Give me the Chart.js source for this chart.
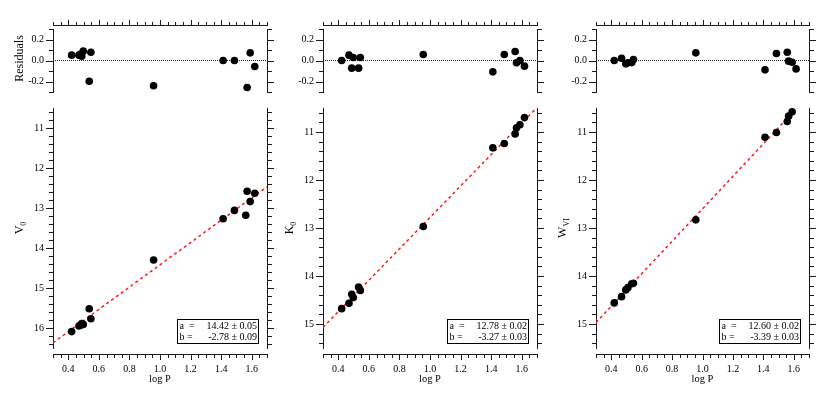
<!DOCTYPE html>
<html><head><meta charset="utf-8">
<script src="https://cdn.jsdelivr.net/npm/chart.js@4/dist/chart.umd.min.js"></script>
<style>
html,body{margin:0;padding:0;background:#fff;width:830px;height:399px;overflow:hidden;position:relative;}
canvas{position:absolute;}
</style></head><body>
<script>
// ---------- data ----------
const logP_V = [0.422, 0.470, 0.480, 0.488, 0.498, 0.537, 0.548, 0.958, 1.413, 1.487, 1.561, 1.570, 1.590, 1.620];
const V0     = [16.09, 15.95, 15.93, 15.89, 15.91, 15.52, 15.77, 14.30, 13.27, 13.06, 13.18, 12.58, 12.84, 12.63];
const resV   = [0.051, 0.051, 0.060, 0.041, 0.089, -0.197, 0.079, -0.241, 0.000, 0.000, null, -0.257, 0.073, -0.057];

const logP_K = [0.422, 0.470, 0.488, 0.498, 0.533, 0.544, 0.956, 1.411, 1.486, 1.557, 1.566, 1.588, 1.618];
const K0     = [14.68, 14.57, 14.38, 14.45, 14.23, 14.30, 12.97, 11.33, 11.24, 11.04, 10.91, 10.85, 10.70];
const resK   = [0.000, 0.051, -0.073, 0.029, -0.073, 0.029, 0.057, -0.108, 0.057, 0.086, -0.022, 0.000, -0.054];

const logP_W = [0.420, 0.468, 0.496, 0.510, 0.535, 0.546, 0.956, 1.411, 1.486, 1.557, 1.566, 1.589, 1.615];
const WVI    = [14.56, 14.43, 14.29, 14.24, 14.16, 14.15, 12.83, 11.11, 11.01, 10.78, 10.67, 10.58, null];
const resW   = [0.000, 0.022, -0.032, -0.022, -0.020, 0.010, 0.073, -0.089, 0.067, 0.079, -0.006, -0.016, -0.080];

// fitted lines (end points)
const fitLogP = [0.3, 1.7];
const fitV    = [16.37, 12.47];
const fitK    = [15.07, 10.49];
const fitW    = [14.97, 10.23];

// fit box texts
const fitA = ["14.42 \u00b1 0.05", "12.78 \u00b1 0.02", "12.60 \u00b1 0.02"];
const fitB = ["-2.78 \u00b1 0.09", "-3.27 \u00b1 0.03", "-3.39 \u00b1 0.03"];

// tick labels
const xTickValues = [0.4, 0.6, 0.8, 1.0, 1.2, 1.4, 1.6];
const xTickLabels = ["0.4", "0.6", "0.8", "1.0", "1.2", "1.4", "1.6"];
const resTickValues = [0.2, 0.0, -0.2];
const resTickLabels = ["0.2", "0.0", "-0.2"];
const vTickLabels = ["11", "12", "13", "14", "15", "16"];
const kTickLabels = ["11", "12", "13", "14", "15"];

const FONT = "'Liberation Serif', 'Times New Roman', serif";
const AX = '#1a1a1a';

// ---------- helpers ----------
function steps(from, to, step) {
  const out = [];
  const n = Math.round((to - from) / step);
  for (let i = 0; i <= n; i++) out.push(Math.round((from + i * step) * 1000) / 1000);
  return out;
}
const xMinorTicks = steps(0.3, 1.7, 0.05);
const resMinorTicks = steps(-0.3, 0.3, 0.1);

function near(a, b) { return Math.abs(a - b) < 1e-6; }
function labelFrom(values, labels) {
  return v => { const i = values.findIndex(w => near(w, v)); return i >= 0 ? labels[i] : ''; };
}
function pts(xs, ys) { return xs.map((x, i) => ({x: x, y: ys[i]})); }

function makeCanvas(left, top, w, h) {
  const c = document.createElement('canvas');
  c.width = w; c.height = h;
  c.style.left = left + 'px'; c.style.top = top + 'px';
  c.style.width = w + 'px'; c.style.height = h + 'px';
  document.body.appendChild(c);
  return c;
}

function noPad(s) { s.paddingTop = 0; s.paddingBottom = 0; s.paddingLeft = 0; s.paddingRight = 0; }

function yAxis(pos, min, max, reverse, tickVals, labelOf, showLabels, width) {
  return {
    type: 'linear', position: pos, min: min, max: max, reverse: reverse,
    afterBuildTicks: s => { s.ticks = tickVals.map(v => ({value: v})); },
    afterFit: s => { s.width = width; noPad(s); },
    grid: {drawOnChartArea: false, drawTicks: false},
    border: {display: true, color: AX, width: 1},
    ticks: {
      display: showLabels, autoSkip: false, padding: 9, color: '#000',
      font: {family: FONT, size: 10},
      callback: v => labelOf(v)
    }
  };
}

function xAxis(pos, showLabels, height, title) {
  return {
    type: 'linear', position: pos, min: 0.3, max: 1.7,
    afterBuildTicks: s => { s.ticks = xMinorTicks.map(v => ({value: v})); },
    afterFit: s => { s.height = height; noPad(s); },
    grid: {drawOnChartArea: false, drawTicks: false},
    border: {display: false},
    ticks: {
      display: showLabels, autoSkip: false, maxRotation: 0, minRotation: 0, padding: 15, color: '#000',
      font: {family: FONT, size: 10},
      callback: v => labelFrom(xTickValues, xTickLabels)(v)
    },
    title: title ? {display: true, text: title, color: '#000', font: {family: FONT, size: 10.5}, padding: {top: 0, bottom: 13}} : {display: false}
  };
}

// x axis line (offset from the plot frame) and tick marks of all four sides, placed with the scales
function axisPlugin(xSide, xMajor, yMajor) {
  return {
    id: 'axisTicks',
    afterDraw(chart) {
      const {ctx, chartArea: a} = chart;
      const L = Math.round(a.left), R = Math.round(a.right), T = Math.round(a.top), B = Math.round(a.bottom);
      const lineY = xSide === 'top' ? T - 4 : B + 6;
      ctx.save();
      ctx.strokeStyle = AX; ctx.lineWidth = 1;
      ctx.beginPath();
      ctx.moveTo(L, lineY + 0.5); ctx.lineTo(R + 1, lineY + 0.5);
      const xs = chart.scales.x;
      xs.ticks.forEach(t => {
        const px = Math.round(xs.getPixelForValue(t.value)) + 0.5;
        const len = xMajor(t.value) ? 5 : 3;
        if (xSide === 'top') { ctx.moveTo(px, lineY); ctx.lineTo(px, lineY - len); }
        else { ctx.moveTo(px, lineY + 1); ctx.lineTo(px, lineY + 1 + len); }
      });
      ['y', 'y2'].forEach(id => {
        const ys = chart.scales[id];
        ys.ticks.forEach(t => {
          const py = Math.round(ys.getPixelForValue(t.value)) + 0.5;
          const M = yMajor(t.value);
          if (id === 'y') { const len = M ? 7 : 4; ctx.moveTo(L, py); ctx.lineTo(L - len, py); }
          else { const len = M ? 6 : 4; ctx.moveTo(R + 1, py); ctx.lineTo(R + 1 + len, py); }
        });
      });
      ctx.stroke();
      ctx.restore();
    }
  };
}

function yTitlePlugin(parts, dx, dy) {
  return {
    id: 'ytitle',
    afterDraw(chart) {
      const {ctx, chartArea: a} = chart;
      const cx = a.left + dx, cy = (a.top + a.bottom) / 2 + (dy || 0);
      ctx.save();
      ctx.translate(cx, cy); ctx.rotate(-Math.PI / 2);
      let total = 0;
      parts.forEach(p => { ctx.font = p.size + 'px ' + FONT; p.w = ctx.measureText(p.text).width; total += p.w; });
      let x = -total / 2;
      ctx.fillStyle = '#000'; ctx.textAlign = 'left'; ctx.textBaseline = 'alphabetic';
      parts.forEach(p => { ctx.font = p.size + 'px ' + FONT; ctx.fillText(p.text, x, 4 + (p.dy || 0)); x += p.w; });
      ctx.restore();
    }
  };
}

function boxPlugin(aText, bText) {
  return {
    id: 'fitbox',
    afterDraw(chart) {
      const {ctx, chartArea: c} = chart;
      const w = 81, h = 24;
      const r = Math.round(c.right) - 9, b = Math.round(c.bottom) - 5;
      const l = r - w, t = b - h;
      ctx.save();
      ctx.fillStyle = '#fff'; ctx.fillRect(l, t, w, h);
      ctx.strokeStyle = '#000'; ctx.lineWidth = 1; ctx.strokeRect(l + 0.5, t + 0.5, w, h);
      ctx.font = '10px ' + FONT; ctx.fillStyle = '#000'; ctx.textBaseline = 'alphabetic';
      ctx.textAlign = 'left';
      ctx.fillText('a  =', l + 2.5, t + 10);
      ctx.fillText('b =', l + 2.5, t + 21);
      ctx.textAlign = 'right';
      ctx.fillText(aText, r - 1, t + 10);
      ctx.fillText(bText, r - 1, t + 21);
      ctx.restore();
    }
  };
}

const base = {
  responsive: false, animation: false, devicePixelRatio: 1, events: [],
  plugins: {legend: {display: false}, tooltip: {enabled: false}}
};

const isXMajor = v => xTickValues.some(w => near(w, v));
const isResMajor = v => resTickValues.some(w => near(w, v));

const panels = [
  {left: 53, right: 267, yMax: 16.5, xs: logP_V, ys: V0, res: resV, fit: fitV, labels: vTickLabels,
   title: [{text: 'V', size: 12}, {text: '0', size: 8, dy: 3}], resTitle: true, a: fitA[0], b: fitB[0]},
  {left: 323, right: 537, yMax: 15.5, xs: logP_K, ys: K0, res: resK, fit: fitK, labels: kTickLabels,
   title: [{text: 'K', size: 12}, {text: '0', size: 8, dy: 3}], resTitle: false, a: fitA[1], b: fitB[1]},
  {left: 596, right: 809, yMax: 15.5, xs: logP_W, ys: WVI, res: resW, fit: fitW, labels: kTickLabels,
   title: [{text: 'W', size: 12}, {text: 'VI', size: 8, dy: 3}], resTitle: false, a: fitA[2], b: fitB[2]}
];

panels.forEach(p => {
  const LW = 53, RW = 10;
  const cw = LW + (p.right - p.left) + RW;
  const cl = p.left - LW;

  // ----- residual panel -----
  const rc = makeCanvas(cl, 0, cw, 100);
  const resPlugins = [axisPlugin('top', isXMajor, isResMajor)];
  if (p.resTitle) resPlugins.push(yTitlePlugin([{text: 'Residuals', size: 12}], -34, -2));
  new Chart(rc, {
    type: 'scatter',
    data: {datasets: [
      {data: pts(p.xs, p.res), backgroundColor: '#000', borderColor: '#000', pointRadius: 3.8, borderWidth: 0, order: 0},
      {data: pts(fitLogP, [0, 0]), showLine: true, pointRadius: 0, borderColor: '#222', borderWidth: 1, borderDash: [1, 1], order: 1}
    ]},
    options: Object.assign({}, base, {
      layout: {autoPadding: false, padding: {top: 0, bottom: 8, left: 0, right: 0}},
      scales: {
        x: xAxis('top', false, 29, null),
        y: yAxis('left', -0.3, 0.3, false, resMinorTicks, labelFrom(resTickValues, resTickLabels), true, LW),
        y2: yAxis('right', -0.3, 0.3, false, resMinorTicks, () => '', false, RW)
      }
    }),
    plugins: resPlugins
  });

  // ----- main panel -----
  const mc = makeCanvas(cl, 100, cw, 299);
  const yTicks = steps(10.6, p.yMax - 0.1, 0.2);
  const majorVals = p.labels.map(Number);
  const isYMajor = v => majorVals.some(w => near(w, v));
  new Chart(mc, {
    type: 'scatter',
    data: {datasets: [
      {data: pts(p.xs, p.ys), backgroundColor: '#000', borderColor: '#000', pointRadius: 3.8, borderWidth: 0, order: 0},
      {data: pts(fitLogP, p.fit), showLine: true, pointRadius: 0, borderColor: '#ff1a1a', borderWidth: 1.5, borderDash: [3, 3], order: 1}
    ]},
    options: Object.assign({}, base, {
      layout: {autoPadding: false, padding: {top: 8, bottom: 0, left: 0, right: 0}},
      scales: {
        x: xAxis('bottom', true, 51, 'log P'),
        y: yAxis('left', 10.5, p.yMax, true, yTicks, labelFrom(majorVals, p.labels), true, LW),
        y2: yAxis('right', 10.5, p.yMax, true, yTicks, () => '', false, RW)
      }
    }),
    plugins: [axisPlugin('bottom', isXMajor, isYMajor), yTitlePlugin(p.title, -34, 0), boxPlugin(p.a, p.b)]
  });
});
</script>
</body></html>
